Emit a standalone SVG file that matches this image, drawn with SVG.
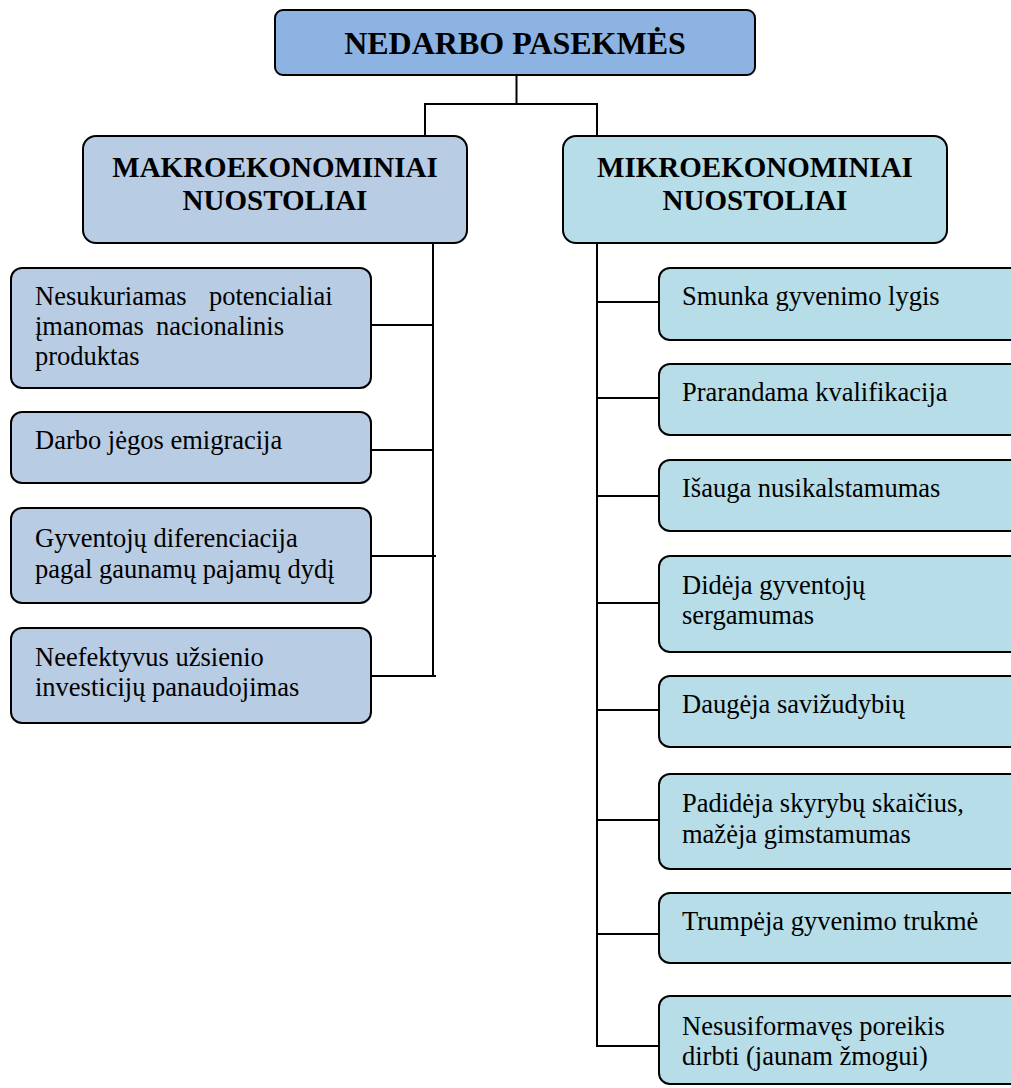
<svg xmlns="http://www.w3.org/2000/svg" width="1011" height="1088" viewBox="0 0 1011 1088">
<style>
  .box { stroke: #000; stroke-width: 2; }
  .top { fill: #8DB3E2; }
  .macro { fill: #B8CCE4; }
  .micro { fill: #B7DDE8; }
  .title { font-family: "Liberation Serif", "Times New Roman", serif; font-weight: bold; font-size: 32px; fill: #000; }
  .head { font-family: "Liberation Serif", "Times New Roman", serif; font-weight: bold; font-size: 29px; fill: #000; }
  .txt { font-family: "Liberation Serif", "Times New Roman", serif; font-size: 26.5px; fill: #000; }
  .conn { fill: none; stroke: #000; stroke-width: 2; }
</style>
<rect width="1011" height="1088" fill="#fff"/>
<g id="connectors">
  <path class="conn" d="M516.5,75 V104 M425,104 H597 M425,103 V136 M597,103 V136"/>
  <path class="conn" d="M433,243 V676 M371,325 H433 M371,450 H433 M371,556 H436 M371,676 H436"/>
  <path class="conn" d="M597,243 V1046 M597,302 H659 M597,398 H659 M597,496 H659 M597,603 H659 M597,710 H659 M597,820 H659 M597,934 H659 M596,1046 H659"/>
</g>
<g id="root">
  <rect class="box top" x="275" y="10" width="480" height="65" rx="8"/>
  <text class="title" x="515" y="54" text-anchor="middle">NEDARBO PASEKMĖS</text>
</g>
<g id="macro">
  <rect class="box macro" x="83" y="136" width="384" height="107" rx="13"/>
  <text class="head" x="275" y="177" text-anchor="middle">MAKROEKONOMINIAI</text>
  <text class="head" x="275" y="210" text-anchor="middle">NUOSTOLIAI</text>
</g>
<g id="micro">
  <rect class="box micro" x="563" y="136" width="384" height="107" rx="13"/>
  <text class="head" x="755" y="177" text-anchor="middle">MIKROEKONOMINIAI</text>
  <text class="head" x="755" y="210" text-anchor="middle">NUOSTOLIAI</text>
</g>
<g id="m1">
  <rect class="box macro" x="11" y="268" width="360" height="120" rx="11"/>
  <text class="txt" y="305"><tspan x="35">Nesukuriamas</tspan><tspan x="209">potencialiai</tspan></text>
  <text class="txt" y="335"><tspan x="35">įmanomas</tspan><tspan x="156">nacionalinis</tspan></text>
  <text class="txt" x="35" y="365">produktas</text>
</g>
<g id="m2">
  <rect class="box macro" x="11" y="412" width="360" height="71" rx="11"/>
  <text class="txt" x="35" y="449">Darbo jėgos emigracija</text>
</g>
<g id="m3">
  <rect class="box macro" x="11" y="508" width="360" height="95" rx="11"/>
  <text class="txt" x="35" y="547">Gyventojų diferenciacija</text>
  <text class="txt" x="35" y="578">pagal gaunamų pajamų dydį</text>
</g>
<g id="m4">
  <rect class="box macro" x="11" y="628" width="360" height="95" rx="11"/>
  <text class="txt" x="35" y="666">Neefektyvus užsienio</text>
  <text class="txt" x="35" y="696">investicijų panaudojimas</text>
</g>
<g id="r1">
  <rect class="box micro" x="659" y="268" width="380" height="72" rx="11"/>
  <text class="txt" x="682" y="305">Smunka gyvenimo lygis</text>
</g>
<g id="r2">
  <rect class="box micro" x="659" y="364" width="380" height="71" rx="11"/>
  <text class="txt" x="682" y="401">Prarandama kvalifikacija</text>
</g>
<g id="r3">
  <rect class="box micro" x="659" y="460" width="380" height="71" rx="11"/>
  <text class="txt" x="682" y="497">Išauga nusikalstamumas</text>
</g>
<g id="r4">
  <rect class="box micro" x="659" y="556" width="380" height="96" rx="11"/>
  <text class="txt" x="682" y="594">Didėja gyventojų</text>
  <text class="txt" x="682" y="624">sergamumas</text>
</g>
<g id="r5">
  <rect class="box micro" x="659" y="676" width="380" height="71" rx="11"/>
  <text class="txt" x="682" y="713">Daugėja savižudybių</text>
</g>
<g id="r6">
  <rect class="box micro" x="659" y="774" width="380" height="95" rx="11"/>
  <text class="txt" x="682" y="812">Padidėja skyrybų skaičius,</text>
  <text class="txt" x="682" y="843">mažėja gimstamumas</text>
</g>
<g id="r7">
  <rect class="box micro" x="659" y="893" width="380" height="70" rx="11"/>
  <text class="txt" x="682" y="930">Trumpėja gyvenimo trukmė</text>
</g>
<g id="r8">
  <rect class="box micro" x="659" y="996" width="380" height="88" rx="11"/>
  <text class="txt" x="682" y="1035">Nesusiformavęs poreikis</text>
  <text class="txt" x="682" y="1065">dirbti (jaunam žmogui)</text>
</g>
</svg>
